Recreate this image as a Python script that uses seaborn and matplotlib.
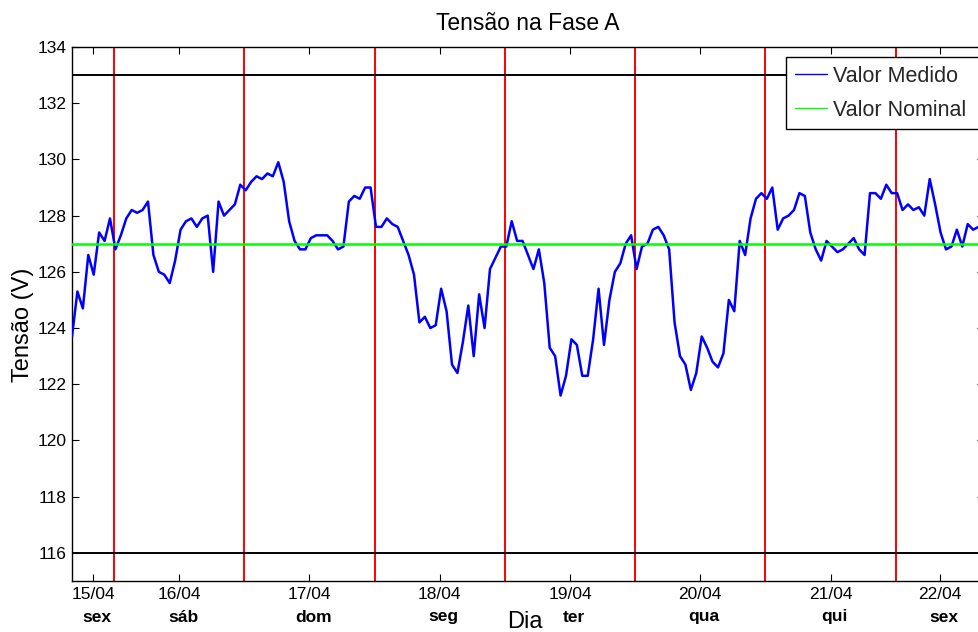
import numpy as np
import pandas as pd
import matplotlib
matplotlib.use("Agg")
import matplotlib.pyplot as plt
import matplotlib.transforms as mtrans
from matplotlib.lines import Line2D
import seaborn as sns

# ---------------- data (hourly readings, starting 15/04 ~16:15) ----------------
start_day = 15.6777          # 15/04 16:16 expressed in day units
voltage = [
    123.7, 125.3, 124.7, 126.6, 125.9, 127.4, 127.1, 127.9, 126.8, 127.3,
    127.9, 128.2, 128.1, 128.2, 128.5, 126.6, 126.0, 125.9, 125.6, 126.4,
    127.5, 127.8, 127.9, 127.6, 127.9, 128.0, 126.0, 128.5, 128.0, 128.2,
    128.4, 129.1, 128.9, 129.2, 129.4, 129.3, 129.5, 129.4, 129.9, 129.2,
    127.8, 127.1, 126.8, 126.8, 127.2, 127.3, 127.3, 127.3, 127.1, 126.8,
    126.9, 128.5, 128.7, 128.6, 129.0, 129.0, 127.6, 127.6, 127.9, 127.7,
    127.6, 127.1, 126.6, 125.9, 124.2, 124.4, 124.0, 124.1, 125.4, 124.6,
    122.7, 122.4, 123.5, 124.8, 123.0, 125.2, 124.0, 126.1, 126.5, 126.9,
    126.9, 127.8, 127.1, 127.1, 126.6, 126.1, 126.8, 125.6, 123.3, 123.0,
    121.6, 122.3, 123.6, 123.4, 122.3, 122.3, 123.6, 125.4, 123.4, 125.0,
    126.0, 126.3, 127.0, 127.3, 126.1, 126.9, 127.0, 127.5, 127.6, 127.3,
    126.8, 124.2, 123.0, 122.7, 121.8, 122.4, 123.7, 123.3, 122.8, 122.6,
    123.1, 125.0, 124.6, 127.1, 126.6, 127.9, 128.6, 128.8, 128.6, 129.0,
    127.5, 127.9, 128.0, 128.2, 128.8, 128.7, 127.4, 126.8, 126.4, 127.1,
    126.9, 126.7, 126.8, 127.0, 127.2, 126.8, 126.6, 128.8, 128.8, 128.6,
    129.1, 128.8, 128.8, 128.2, 128.4, 128.2, 128.3, 128.0, 129.3, 128.4,
    127.4, 126.8, 126.9, 127.5, 126.9, 127.7, 127.5, 127.6, 127.7,
]
hours = np.arange(len(voltage))

nominal = 127
limit_low = 116
limit_high = 133
day_bounds = [16, 17, 18, 19, 20, 21, 22]
date_labels = ["15/04", "16/04", "17/04", "18/04", "19/04", "20/04", "21/04", "22/04"]
weekday_labels = ["sex", "sáb", "dom", "seg", "ter", "qua", "qui", "sex"]

df = pd.DataFrame({"dia": start_day + hours / 24.0, "tensao": voltage})
end_day = start_day + 7.0

# ---------------- figure ----------------
sns.set_theme(style="ticks")
plt.rcParams["font.family"] = ["Liberation Sans", "DejaVu Sans"]

W, H = 979, 632
fig = plt.figure(figsize=(W / 100, H / 100), dpi=100)
ax = fig.add_axes([72 / W, 1 - 581 / H, (984 - 72) / W, (581 - 47) / H])

for d in day_bounds:
    ax.axvline(d, color=(1, 0, 0), lw=1.4, zorder=2)
ax.axhline(limit_low, color="black", lw=1.4, zorder=2)
ax.axhline(limit_high, color="black", lw=1.4, zorder=2)

sns.lineplot(data=df, x="dia", y="tensao", ax=ax, color=(0, 0, 1), lw=1.8, zorder=3)
ax.axhline(nominal, color=(0, 1, 0), lw=1.8, zorder=4)

ax.set_xlim(start_day, end_day)
ax.set_ylim(115, 134)
ax.set_yticks(np.arange(116, 135, 2))

edges = [start_day] + day_bounds + [end_day]
tick_pos = [(edges[i] + edges[i + 1]) / 2 for i in range(len(edges) - 1)]
ax.set_xticks(tick_pos)
ax.set_xticklabels(date_labels)

ax.tick_params(axis="both", direction="in", length=5, width=0.8, colors="black",
               labelsize=12.5, top=True, right=True, pad=4)
ax.tick_params(axis="x", pad=4)
for s in ax.spines.values():
    s.set_color("black")
    s.set_linewidth(1.0)

# weekday labels (bold) below dates
trans = mtrans.blended_transform_factory(ax.transData, ax.transAxes)
off = mtrans.ScaledTranslation(4 / 100, -36 / 100, fig.dpi_scale_trans)
for p, wd in zip(tick_pos, weekday_labels):
    ax.text(p, 0, wd, transform=trans + off, ha="center", va="center",
            fontsize=12.5, fontweight="bold", color="black")

ax.set_xlabel("")
ax.set_ylabel("")
fig.text(525 / W, 1 - 622 / H, "Dia", ha="center", va="center", fontsize=17, color="black")
fig.text(23 / W, 1 - 325 / H, "Tensão (V)", ha="center", va="center", rotation=90,
         fontsize=17, color="black")
fig.text(528 / W, 1 - 24 / H, "Tensão na Fase A", ha="center", va="center",
         fontsize=16.5, color="black")

handles = [Line2D([], [], color=(0, 0, 1), lw=1.0),
           Line2D([], [], color=(0, 1, 0), lw=1.0)]
leg = ax.legend(handles, ["Valor Medido", "Valor Nominal"], loc="upper left",
                bbox_to_anchor=(786 / W, 1 - 130 / H, 200 / W, 73 / H),
                bbox_transform=fig.transFigure, mode="expand",
                fontsize=15.5, frameon=True, fancybox=False, framealpha=1,
                edgecolor="black", borderaxespad=0, handlelength=1.5,
                handletextpad=0.28, borderpad=0.4, labelspacing=0.6)
leg.get_frame().set_linewidth(1.0)

fig.savefig("out.png", dpi=100)
